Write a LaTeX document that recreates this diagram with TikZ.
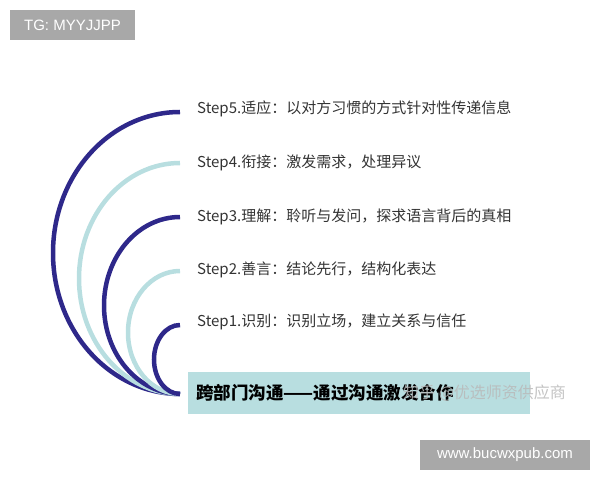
\documentclass[tikz,border=0pt]{standalone}
\usepackage{fontspec}
\setmainfont{Liberation Sans}
\newfontfamily\cjk{Noto Sans CJK SC}
\definecolor{navy}{RGB}{46,40,138}
\definecolor{paleteal}{RGB}{184,222,224}
\definecolor{steptext}{RGB}{51,51,51}
\definecolor{markgray}{RGB}{168,168,168}
\tikzset{
  darkarc/.style={draw=navy,line width=4.5pt},
  lightarc/.style={draw=paleteal,line width=4.5pt},
  steplabel/.style={anchor=west,inner sep=0pt,text=steptext,font=\cjk\fontsize{15}{18}\selectfont},
  markbox/.style={fill=markgray,text=white,inner sep=0pt,font=\fontsize{15}{18}\selectfont}
}
\begin{document}
\begin{tikzpicture}[x=1pt,y=1pt]
  \useasboundingbox (0,0) rectangle (600,480);
  % watermark boxes
  \node[markbox,minimum width=125pt,minimum height=30pt] (tg) at (72.5,455) {TG: MYYJJPP};
  \node[markbox,minimum width=170pt,minimum height=30pt] (web) at (505,25) {www.bucwxpub.com};
  % title bar
  \fill[paleteal] (188,66) rectangle (530,108);
  \node[anchor=west,inner sep=0pt,font=\cjk\bfseries\fontsize{17.5}{21}\selectfont] (title) at (196,87) {跨部门沟通——通过沟通激发合作};
  \node[anchor=west,inner sep=0pt,text=gray!55,opacity=0.85,font=\cjk\fontsize{16}{19}\selectfont] (zhihu) at (403,87) {知乎 @优选师资供应商};
  % nested arcs
  \draw[darkarc] (180,368) arc[start angle=90,end angle=270,x radius=127,y radius=141];
  \draw[lightarc] (180,317) arc[start angle=90,end angle=270,x radius=101,y radius=115.5];
  \draw[darkarc] (180,263) arc[start angle=90,end angle=270,x radius=76,y radius=88.5];
  \draw[lightarc] (180,209) arc[start angle=90,end angle=270,x radius=52,y radius=61.5];
  \draw[darkarc] (180,155) arc[start angle=90,end angle=270,x radius=26,y radius=34.5];
  % step labels
  \node[steplabel] (step5) at (197,371) {Step5.适应：以对方习惯的方式针对性传递信息};
  \node[steplabel] (step4) at (197,317) {Step4.衔接：激发需求，处理异议};
  \node[steplabel] (step3) at (197,263) {Step3.理解：聆听与发问，探求语言背后的真相};
  \node[steplabel] (step2) at (197,210) {Step2.善言：结论先行，结构化表达};
  \node[steplabel] (step1) at (197,158) {Step1.识别：识别立场，建立关系与信任};
\end{tikzpicture}
\end{document}
